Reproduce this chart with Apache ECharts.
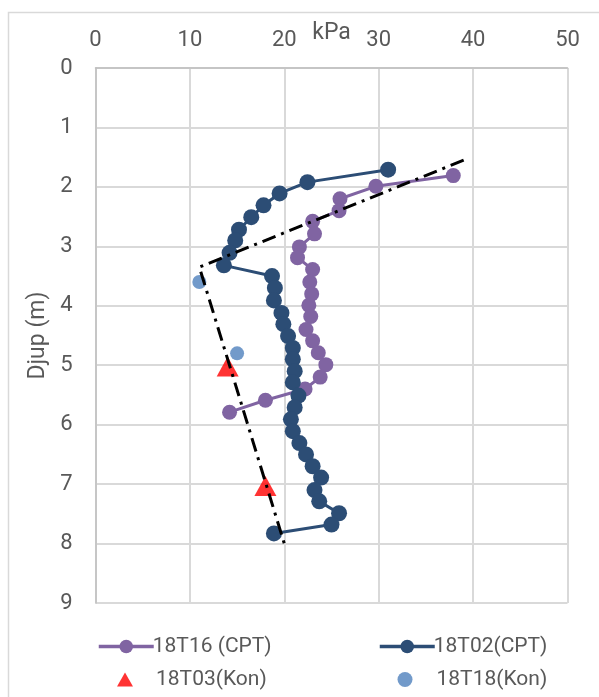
<!DOCTYPE html>
<html><head><meta charset="utf-8">
<script src="https://cdn.jsdelivr.net/npm/echarts@6/dist/echarts.min.js"></script>
<style>html,body{margin:0;padding:0;background:#fff}#c{width:599px;height:697px}</style>
</head><body><div id="c"></div>
<script>
// 18T16 (CPT): [kPa, depth m]
const s18T16 = [[37.9,1.81],[29.7,1.99],[25.9,2.2],[25.8,2.4],[23.0,2.58],[23.2,2.79],[21.6,3.01],[21.4,3.19],[23.0,3.39],[22.7,3.6],[22.9,3.8],[22.6,3.99],[22.8,4.18],[22.3,4.4],[23.0,4.59],[23.6,4.79],[24.4,4.99],[23.8,5.2],[22.2,5.4],[18.0,5.59],[14.2,5.79]];
// 18T02 (CPT)
const s18T02 = [[31.0,1.71],[22.45,1.92],[19.5,2.11],[17.8,2.31],[16.5,2.51],[15.2,2.72],[14.8,2.9],[14.2,3.11],[13.6,3.32],[18.7,3.5],[19.0,3.7],[18.9,3.91],[19.7,4.12],[19.9,4.31],[20.4,4.51],[20.9,4.71],[20.9,4.9],[21.1,5.1],[20.9,5.29],[21.5,5.51],[21.1,5.71],[20.7,5.91],[20.9,6.11],[21.6,6.31],[22.3,6.5],[23.0,6.7],[23.9,6.89],[23.2,7.1],[23.7,7.29],[25.8,7.49],[25.0,7.68],[18.9,7.83]];
// 18T03 (Kon)
const s18T03 = [[14.0,5.02],[18.0,7.03]];
// 18T18 (Kon)
const s18T18 = [[11.0,3.6],[15.0,4.8]];
// design line
const designLine = [[39.0,1.55],[11.0,3.35],[20.0,8.0]];
const xTicks = {min:0,max:50,interval:10};
const yTicks = {min:0,max:9,interval:1};

const FONT = 'Roboto';
const TXT = '#595959';
const ts = {fontFamily:FONT,fontSize:22,color:TXT};
const tn = {fontFamily:FONT,fontSize:23,color:TXT};
const tl = {fontFamily:FONT,fontSize:21,color:TXT};
const chart = echarts.init(document.getElementById('c'), null, {renderer:'canvas'});
chart.setOption({
  animation:false,
  backgroundColor:'#fff',
  graphic:[{type:'rect',shape:{x:8.5,y:12.5,width:620,height:720},style:{fill:null,stroke:'#d9d9d9',lineWidth:1.5},z:-10}],
  grid:{left:95.5,right:31.5,top:68,bottom:94,containLabel:false},
  xAxis:{type:'value',position:'top',min:xTicks.min,max:xTicks.max,interval:xTicks.interval,
    name:'kPa',nameLocation:'middle',nameGap:23,nameMoveOverlap:false,nameTextStyle:Object.assign({},tn),
    axisLine:{show:true,lineStyle:{color:'#bfbfbf',width:1.5}},axisTick:{show:false},
    axisLabel:Object.assign({margin:17},ts),
    splitLine:{show:true,lineStyle:{color:'#d9d9d9',width:2}}},
  yAxis:{type:'value',inverse:true,min:yTicks.min,max:yTicks.max,interval:yTicks.interval,
    name:'Djup (m)',nameLocation:'middle',nameGap:46,nameMoveOverlap:false,nameRotate:90,nameTextStyle:Object.assign({},tn),
    axisLine:{show:true,lineStyle:{color:'#bfbfbf',width:1.5}},axisTick:{show:false},
    axisLabel:Object.assign({margin:23},ts),
    splitLine:{show:true,lineStyle:{color:'#d9d9d9',width:2}}},
  legend:[
    {left:92,top:631,itemWidth:55,itemHeight:17,lineStyle:{width:3.5},textStyle:Object.assign({padding:[0,0,0,-6]},tl),data:['18T16 (CPT)']},
    {left:373,top:631,itemWidth:55,itemHeight:17,lineStyle:{width:3.5},textStyle:Object.assign({padding:[0,0,0,-6]},tl),data:['18T02(CPT)']},
    {left:112,top:664,itemWidth:16,itemHeight:14,textStyle:Object.assign({padding:[0,0,0,18]},tl),data:['18T03(Kon)']},
    {left:392.5,top:664,itemWidth:15,itemHeight:15,textStyle:Object.assign({padding:[0,0,0,19]},tl),data:['18T18(Kon)']}
  ],
  series:[
    {name:'18T16 (CPT)',type:'line',data:s18T16,symbol:'circle',symbolSize:15,
     lineStyle:{color:'#8064A2',width:3},itemStyle:{color:'#8064A2'},z:2},
    {name:'18T02(CPT)',type:'line',data:s18T02,symbol:'circle',symbolSize:16,
     lineStyle:{color:'#2C4D75',width:3},itemStyle:{color:'#2C4D75'},z:3},
    {name:'18T03(Kon)',type:'scatter',data:s18T03,symbol:'triangle',symbolSize:[22,20],
     itemStyle:{color:'#FF0000'},z:4},
    {name:'18T18(Kon)',type:'scatter',data:s18T18,symbol:'circle',symbolSize:14,
     itemStyle:{color:'#4F81BD'},z:5},
    {name:'design',type:'line',data:designLine,symbol:'none',
     lineStyle:{color:'#000',width:3,type:[14,6,3,6]},z:6}
  ]
});
</script></body></html>
